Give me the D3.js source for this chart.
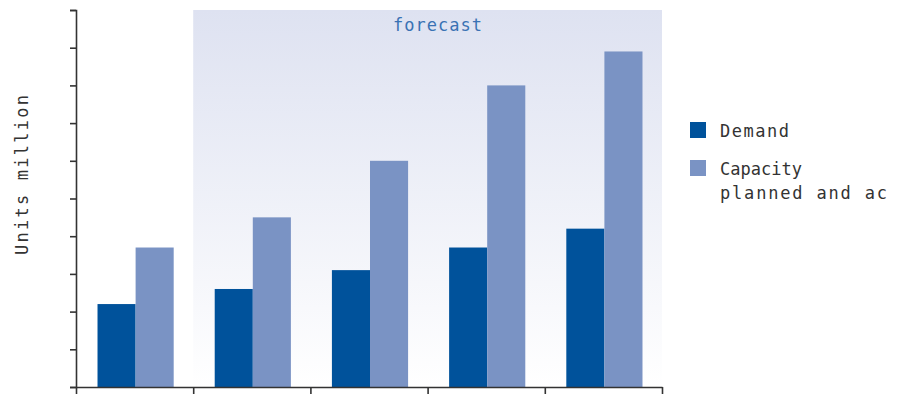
<!DOCTYPE html>
<html>
<head>
<meta charset="utf-8">
<script src="https://cdn.jsdelivr.net/npm/d3@7"></script>
<style>
  html, body { margin: 0; padding: 0; background: #ffffff; }
  svg { display: block; }
  text { font-family: "DejaVu Sans Mono", monospace; fill: #333333; }
</style>
</head>
<body>
<svg id="chart" width="908" height="394"></svg>
<script>
// Periods along the x axis (unlabelled), the first one is actual, the rest forecast
const periods = ["P1", "P2", "P3", "P4", "P5"];
const demand = [2.2, 2.6, 3.1, 3.7, 4.2];
const capacity = [3.7, 4.5, 6.0, 8.0, 8.9];
const seriesNames = ["Demand", "Capacity"];
const yTicks = [0, 1, 2, 3, 4, 5, 6, 7, 8, 9, 10];
const forecastFrom = "P2";

const colors = { Demand: "#00529b", Capacity: "#7a93c4" };

const svg = d3.select("#chart");
const plotLeft = 76, plotRight = 662, plotTop = 10, plotBottom = 387;

const x0 = d3.scaleBand().domain(periods).range([plotLeft, plotRight])
  .paddingInner(0.35).paddingOuter(0.175);
const x1 = d3.scaleBand().domain(seriesNames).range([0, x0.bandwidth()]);
const y = d3.scaleLinear().domain([0, 10]).range([plotBottom, plotTop]);
const edges = d3.scaleLinear().domain([0, periods.length]).range([plotLeft, plotRight]);

// Forecast background with a soft vertical gradient
const defs = svg.append("defs");
const grad = defs.append("linearGradient").attr("id", "fcGrad")
  .attr("x1", 0).attr("y1", 0).attr("x2", 0).attr("y2", 1);
grad.append("stop").attr("offset", "0%").attr("stop-color", "#dee2f1");
grad.append("stop").attr("offset", "100%").attr("stop-color", "#ffffff");

const fcStart = edges(periods.indexOf(forecastFrom));
svg.append("rect")
  .attr("x", fcStart).attr("y", y(10))
  .attr("width", plotRight - fcStart).attr("height", y(0) - y(10))
  .attr("fill", "url(#fcGrad)");

svg.append("text")
  .attr("x", 393).attr("y", 31)
  .attr("textLength", 89).attr("lengthAdjust", "spacing")
  .style("font-size", "17px").style("fill", "#3a72b4")
  .text("forecast");

// Grouped bars
const rows = periods.map((p, i) => ({ period: p, values: [
  { key: "Demand", value: demand[i] },
  { key: "Capacity", value: capacity[i] }
]}));

const groups = svg.append("g").selectAll("g").data(rows).join("g")
  .attr("transform", d => `translate(${x0(d.period) + 1},0)`);
groups.selectAll("rect").data(d => d.values).join("rect")
  .attr("x", d => x1(d.key))
  .attr("y", d => y(d.value))
  .attr("width", x1.bandwidth())
  .attr("height", d => y(0) - y(d.value))
  .attr("fill", d => colors[d.key]);

// Axes
const yAxis = svg.append("g")
  .attr("transform", `translate(${plotLeft},0)`)
  .call(d3.axisLeft(y).tickValues(yTicks).tickSize(6).tickSizeOuter(6).tickFormat(""));
const xAxis = svg.append("g")
  .attr("transform", `translate(0,${plotBottom})`)
  .call(d3.axisBottom(edges).ticks(periods.length).tickSize(8).tickSizeOuter(0).tickFormat(""));
[yAxis, xAxis].forEach(a => {
  a.selectAll("path").attr("stroke", "#333333").attr("stroke-width", 1.6);
  a.selectAll("line").attr("stroke", "#333333").attr("stroke-width", 1.6);
});

// Axis title
svg.append("text")
  .attr("transform", "translate(28,255) rotate(-90)")
  .attr("textLength", 160).attr("lengthAdjust", "spacing")
  .style("font-size", "17px")
  .text("Units million");

// Legend
const legend = svg.append("g");
legend.append("rect").attr("x", 690).attr("y", 122).attr("width", 16).attr("height", 16)
  .attr("fill", colors.Demand);
legend.append("text").attr("x", 720).attr("y", 137)
  .attr("textLength", 69).attr("lengthAdjust", "spacing")
  .style("font-size", "17px").text("Demand");
legend.append("rect").attr("x", 690).attr("y", 160).attr("width", 16).attr("height", 16)
  .attr("fill", colors.Capacity);
legend.append("text").attr("x", 720).attr("y", 175)
  .style("font-size", "17px").text("Capacity");
legend.append("text").attr("x", 720).attr("y", 199)
  .attr("textLength", 167).attr("lengthAdjust", "spacing")
  .style("font-size", "17px").text("planned and ac");
</script>
</body>
</html>
